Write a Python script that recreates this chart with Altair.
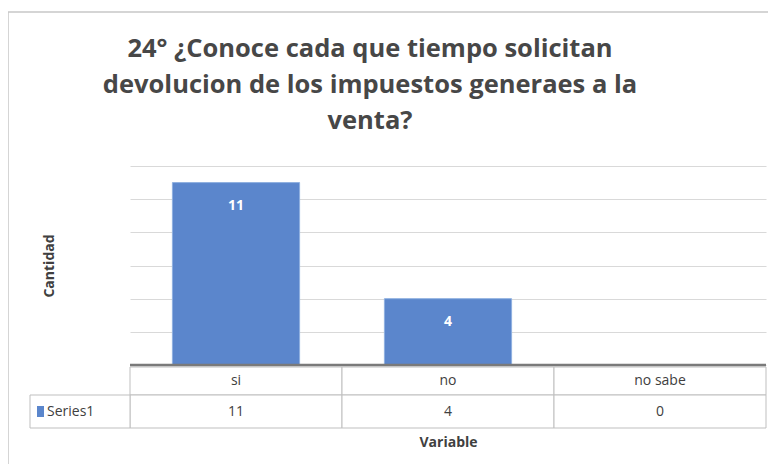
import altair as alt
import pandas as pd

# ---- data ----
categories = ["si", "no", "no sabe"]
values = [11, 4, 0]
series_name = "Series1"
y_ticks = [0, 2, 4, 6, 8, 10, 12]
title_lines = [
    "24° ¿Conoce cada que tiempo solicitan",
    "devolucion de los impuestos generaes a la",
    "venta?",
]
x_title = "Variable"
y_title = "Cantidad"

# ---- style ----
FONT = "Open Sans"
BAR = "#5b86cc"
TXT = "#404040"
GRID = "#d9d9d9"
LINE = "#bfbfbf"
W, H = 636, 199

df = pd.DataFrame({"Variable": categories, "Cantidad": values})
df["label"] = [str(v) for v in values]
one = pd.DataFrame({"Cantidad": [0], "name": [series_name]})

# ---- bar layer ----
x_axis = alt.Axis(labels=False, ticks=False, domain=False, grid=False,
                  title=x_title, titlePadding=70, titleFont=FONT,
                  titleFontSize=14, titleFontWeight="bold", titleColor=TXT)
y_axis = alt.Axis(values=y_ticks, labels=False, ticks=False, domain=False,
                  grid=True, gridColor=GRID, gridWidth=1,
                  title=y_title, titlePadding=74, titleFont=FONT,
                  titleFontSize=14, titleFontWeight="bold", titleColor=TXT)
y_scale = alt.Scale(domain=[0, 12], nice=False)
xb = alt.X("Variable:N", sort=categories,
           scale=alt.Scale(paddingInner=0.4, paddingOuter=0.2), axis=x_axis)
yb = alt.Y("Cantidad:Q", scale=y_scale, axis=y_axis)

bars = alt.Chart(df).mark_bar(color=BAR, stroke="#8fb0e0", strokeWidth=1).encode(x=xb, y=yb)
bar_labels = (
    alt.Chart(df)
    .transform_filter("datum.Cantidad > 0")
    .mark_text(font=FONT, fontSize=14, fontWeight="bold", color="white",
               baseline="middle", dy=23)
    .encode(x=xb, y=yb, text="label:N")
)
baseline = alt.Chart(one).mark_rule(color="#7a7a7a", strokeWidth=2.5).encode(y=yb)
bar_layer = alt.layer(bars, bar_labels, baseline)

# ---- data table layer ----
xt = alt.X("Variable:N", sort=categories,
           scale=alt.Scale(paddingInner=0, paddingOuter=0), axis=None)

frame = alt.Chart(one).mark_rect(fillOpacity=0, stroke="#c8c8c8", strokeWidth=1.5).encode(
    x=alt.value(-122), x2=alt.value(660), y=alt.value(-154), y2=alt.value(330))
cells1 = alt.Chart(df).mark_rect(fill="white", stroke=LINE, strokeWidth=1).encode(
    x=xt, y=alt.value(201), y2=alt.value(229))
cells2 = alt.Chart(df).mark_rect(fill="white", stroke=LINE, strokeWidth=1).encode(
    x=xt, y=alt.value(229), y2=alt.value(262))
head_cell = alt.Chart(one).mark_rect(fill="white", stroke=LINE, strokeWidth=1).encode(
    x=alt.value(-100), x2=alt.value(0), y=alt.value(229), y2=alt.value(262))
legend_sq = alt.Chart(one).mark_rect(color=BAR).encode(
    x=alt.value(-93), x2=alt.value(-86), y=alt.value(240), y2=alt.value(251))
legend_txt = alt.Chart(one).mark_text(font=FONT, fontSize=14, color=TXT, align="left",
                                      baseline="middle").encode(
    x=alt.value(-83), y=alt.value(245.5), text="name:N")
cat_txt = alt.Chart(df).mark_text(font=FONT, fontSize=14, color=TXT, baseline="middle").encode(
    x=xt, y=alt.value(214.5), text="Variable:N")
val_txt = alt.Chart(df).mark_text(font=FONT, fontSize=14, color=TXT, baseline="middle").encode(
    x=xt, y=alt.value(245.5), text="label:N")
table_layer = alt.layer(frame, cells1, cells2, head_cell, legend_sq, legend_txt, cat_txt, val_txt)

chart = (
    alt.layer(table_layer, bar_layer)
    .resolve_scale(x="independent")
    .properties(
        width=W, height=H,
        title=alt.TitleParams(text=title_lines, font=FONT, fontSize=25.5, fontWeight="bold",
                              color="#474747", anchor="middle", dx=-78, dy=123, offset=0,
                              lineHeight=36),
        autosize=alt.AutoSizeParams(type="none"),
        padding={"left": 122, "top": 158, "right": 2, "bottom": 99},
        background="white",
    )
    .configure_view(stroke=None)
)

chart.save("out.html", embed_options={"renderer": "svg", "actions": False})
